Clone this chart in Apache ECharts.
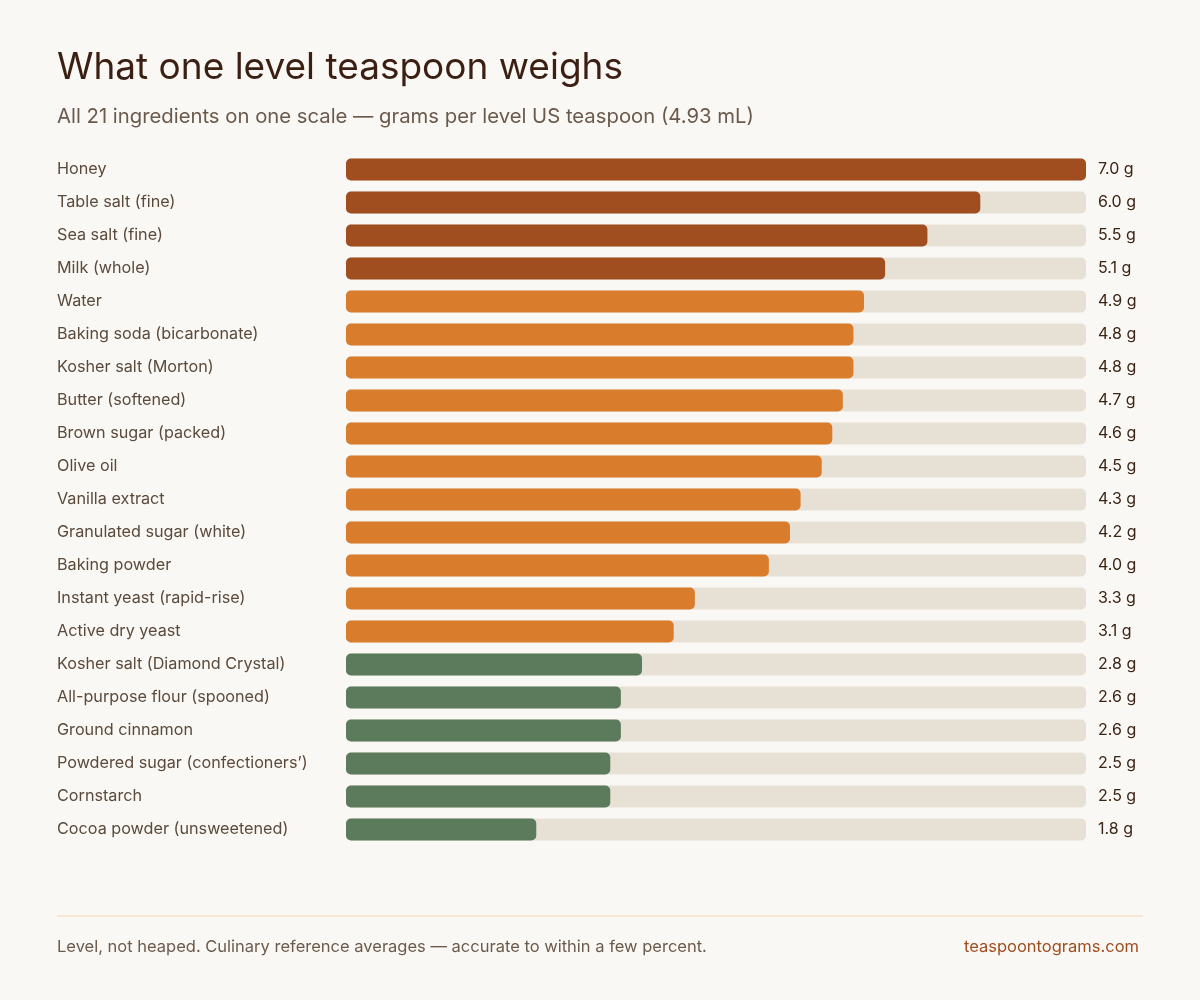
<!DOCTYPE html>
<html>
<head>
<meta charset="utf-8">
<title>What one level teaspoon weighs</title>
<script src="https://cdn.jsdelivr.net/npm/echarts@6/dist/echarts.min.js"></script>
<style>
    html, body { margin: 0; padding: 0; background: #faf8f4; }
    #chart { width: 1200px; height: 1000px; }
</style>
</head>
<body>
<div id="chart"></div>
<script>
// Ingredients, top to bottom
const ingredients = [
    'Honey', 'Table salt (fine)', 'Sea salt (fine)', 'Milk (whole)', 'Water',
    'Baking soda (bicarbonate)', 'Kosher salt (Morton)', 'Butter (softened)',
    'Brown sugar (packed)', 'Olive oil', 'Vanilla extract', 'Granulated sugar (white)',
    'Baking powder', 'Instant yeast (rapid-rise)', 'Active dry yeast',
    'Kosher salt (Diamond Crystal)', 'All-purpose flour (spooned)', 'Ground cinnamon',
    'Powdered sugar (confectioners\u2019)', 'Cornstarch', 'Cocoa powder (unsweetened)'
];

// Grams per level US teaspoon
const grams = [7.0, 6.0, 5.5, 5.1, 4.9, 4.8, 4.8, 4.7, 4.6, 4.5, 4.3, 4.2, 4.0, 3.3, 3.1, 2.8, 2.6, 2.6, 2.5, 2.5, 1.8];

// Weight band for each row: heavy / medium / light
const bands = ['heavy', 'heavy', 'heavy', 'heavy',
    'medium', 'medium', 'medium', 'medium', 'medium', 'medium', 'medium', 'medium', 'medium', 'medium', 'medium',
    'light', 'light', 'light', 'light', 'light', 'light'];

const scaleMax = 7;

const bandColors = {
    heavy: '#a04d1f',
    medium: '#d97c2b',
    light: '#5c7b5c',
};

const font = 'Inter, "Noto Sans", sans-serif';

const chart = echarts.init(document.getElementById('chart'), null, { renderer: 'canvas' });

chart.setOption({
    backgroundColor: '#faf8f4',
    animation: false,
    title: [
        {
            text: 'What one level teaspoon weighs',
            left: 52,
            top: 44,
            textStyle: { fontFamily: font, fontSize: 37, fontWeight: 'normal', color: '#3a1f12' },
        },
        {
            text: 'All 21 ingredients on one scale \u2014 grams per level US teaspoon (4.93 mL)',
            left: 52,
            top: 102,
            textStyle: { fontFamily: font, fontSize: 20.3, fontWeight: 'normal', color: '#6b5a4c' },
        },
        {
            text: 'Level, not heaped. Culinary reference averages \u2014 accurate to within a few percent.',
            left: 52,
            top: 934,
            textStyle: { fontFamily: font, fontSize: 16.5, fontWeight: 'normal', color: '#6b5a4c' },
        },
        {
            text: 'teaspoontograms.com',
            right: 56,
            top: 934,
            textStyle: { fontFamily: font, fontSize: 16.5, fontWeight: 'normal', color: '#a04d1f' },
        },
    ],
    graphic: [
        {
            type: 'line',
            shape: { x1: 57, y1: 916, x2: 1143, y2: 916 },
            style: { stroke: '#f5e8d4', lineWidth: 2 },
        },
    ],
    grid: {
        left: 346,
        right: 114,
        top: 153,
        height: 693,
        containLabel: false,
    },
    xAxis: {
        type: 'value',
        min: 0,
        max: scaleMax,
        show: false,
    },
    yAxis: {
        type: 'category',
        data: ingredients,
        inverse: true,
        axisLine: { show: false },
        axisTick: { show: false },
        axisLabel: {
            align: 'left',
            margin: 289,
            fontFamily: font,
            fontSize: 16.2,
            color: '#5a4a3c',
        },
    },
    series: [
        {
            // full-scale track behind each bar, carries the value label
            type: 'bar',
            data: ingredients.map(() => scaleMax),
            barWidth: 22,
            barGap: '-100%',
            silent: true,
            itemStyle: { color: '#e7e0d5', borderRadius: 5 },
            label: {
                show: true,
                position: 'right',
                distance: 12,
                fontFamily: font,
                fontSize: 16,
                color: '#3a2416',
                formatter: (p) => grams[p.dataIndex].toFixed(1) + ' g',
            },
            z: 1,
        },
        {
            type: 'bar',
            data: grams.map((v, i) => ({
                value: v,
                itemStyle: { color: bandColors[bands[i]] },
            })),
            barWidth: 22,
            itemStyle: { borderRadius: 5 },
            z: 2,
        },
    ],
});
</script>
</body>
</html>
